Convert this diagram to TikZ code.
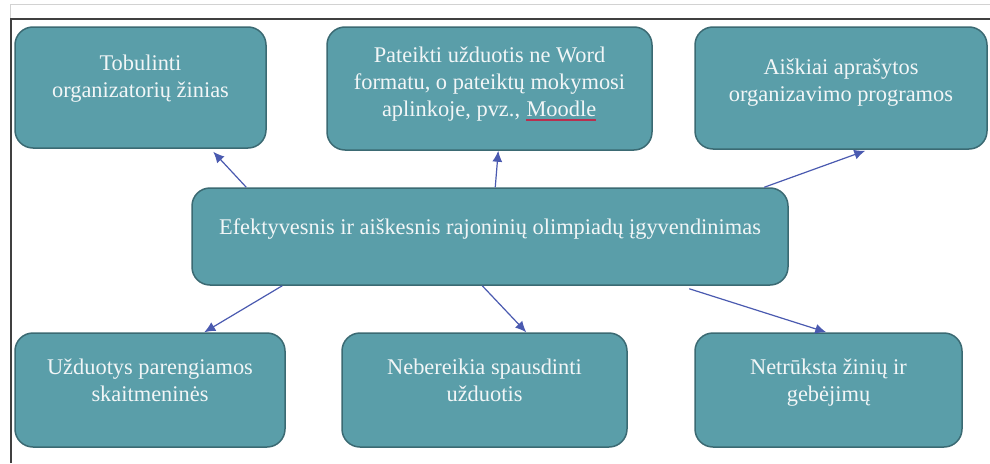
\documentclass[tikz,border=0pt]{standalone}
\usepackage{fontspec}
\setmainfont{Liberation Serif}
\usetikzlibrary{arrows.meta,calc}
\definecolor{boxfill}{HTML}{5A9EA9}
\definecolor{boxline}{HTML}{3B6A73}
\definecolor{arrowc}{HTML}{4A5AB0}
\definecolor{txtc}{HTML}{F2F6F7}
\definecolor{ulred}{HTML}{B8304F}
\definecolor{framedark}{HTML}{404040}
\definecolor{framelight}{HTML}{D2D2D2}
\newcommand\myredul[1]{\tikz[baseline=(mw.base)]{\node[inner sep=0pt, text=txtc, draw=none, fill=none] (mw) {#1}; \draw[draw=ulred, line width=1.2pt] ([yshift=-4pt]mw.base west) -- ([yshift=-4pt]mw.base east);}}
\newcommand\mybt[4]{\parbox[c][#2][t]{#1}{\centering\rule{0pt}{#3}#4}}
\tikzset{
  box/.style={draw=boxline, line width=1.5pt, fill=boxfill, rounded corners=18pt,
    inner sep=0pt, text=txtc, font=\fontsize{22.4pt}{27pt}\selectfont},
  conn/.style={draw=arrowc, line width=1.2pt, -{Latex[length=11pt,width=10pt]}}
}
\begin{document}
\begin{tikzpicture}[x=1pt,y=-1pt]
\useasboundingbox (0,0) rectangle (990,463);
\fill[white] (0,0) rectangle (990,463);
\draw[framelight, line width=1pt] (10,19) -- (10,4) -- (990,4);
\draw[framedark, line width=1.3pt] (11,463) -- (11,19) -- (990,19);

\node[box] (b1) at (140.5,87.5) {\mybt{251pt}{121pt}{43pt}{Tobulinti\\organizatorių žinias}};
\node[box] (b2) at (489.5,88.5) {\mybt{325pt}{123pt}{35pt}{Pateikti užduotis ne Word\\formatu, o pateiktų mokymosi\\aplinkoje, pvz., \myredul{Moodle}}};
\node[box] (b3) at (841,88) {\mybt{292pt}{122pt}{47pt}{Aiškiai aprašytos\\organizavimo programos}};
\node[box] (c) at (490,236.5) {\mybt{596pt}{97pt}{46pt}{Efektyvesnis ir aiškesnis rajoninių olimpiadų įgyvendinimas}};
\node[box] (b4) at (150,390) {\mybt{270pt}{114pt}{41pt}{Užduotys parengiamos\\skaitmeninės}};
\node[box] (b5) at (484.5,390) {\mybt{285pt}{114pt}{41pt}{Nebereikia spausdinti\\užduotis}};
\node[box] (b6) at (828.5,390) {\mybt{267pt}{114pt}{41pt}{Netrūksta žinių ir\\gebėjimų}};

\draw[conn] ($(c.north west)+(55,0)$) -- ($(b1.south west)+(199,3)$);
\draw[conn] ($(c.north west)+(304,0)$) -- ($(b2.south west)+(172,0)$);
\draw[conn] ($(c.north west)+(573,0)$) -- ($(b3.south west)+(171,1)$);
\draw[conn] ($(c.south west)+(91,0)$) -- ($(b4.north west)+(190,0)$);
\draw[conn] ($(c.south west)+(291,0)$) -- ($(b5.north west)+(185,0)$);
\draw[conn] ($(c.south west)+(498,3)$) -- ($(b6.north west)+(132,0)$);
\end{tikzpicture}
\end{document}
